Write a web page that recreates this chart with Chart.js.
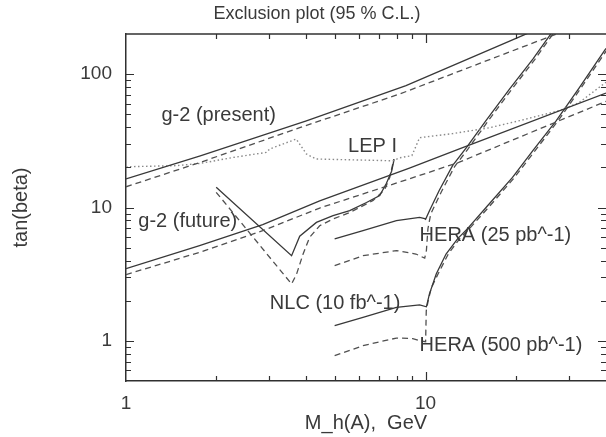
<!DOCTYPE html>
<html>
<head>
<meta charset="utf-8">
<script src="https://cdn.jsdelivr.net/npm/chart.js@4.4.1/dist/chart.umd.min.js"></script>
<style>
  html, body { margin: 0; padding: 0; background: #fff; overflow: hidden; }
  #wrap { width: 606px; height: 437px; position: relative; }
</style>
</head>
<body>
<div id="wrap"><canvas id="c" width="606" height="437"></canvas></div>
<script>
// Exclusion contours in the (M_h(A) [GeV], tan(beta)) plane, 95 % C.L.

// g-2 (present)
const g2PresentSolidM  = [1, 1.77, 4.0, 8.6, 20.3, 23];
const g2PresentSolidT  = [16.4, 24.4, 44.7, 82, 188, 212];
const g2PresentDashedM = [1, 1.77, 3.8, 8.2, 25.2, 30];
const g2PresentDashedT = [14.3, 21.8, 39.7, 71, 186.5, 216];

// g-2 (future)
const g2FutureSolidM  = [1, 1.76, 2.86, 4.43, 8.83, 12.9, 40];
const g2FutureSolidT  = [3.48, 5.17, 7.43, 11.2, 19.7, 27.4, 72];
const g2FutureDashedM = [1, 1.76, 2.86, 4.43, 8.83, 12.9, 40];
const g2FutureDashedT = [3.14, 4.61, 6.7, 9.91, 16.4, 21.8, 62.5];

// LEP I
const lepM = [1, 1.47, 1.77, 2.27, 2.94, 3.02, 3.70, 4.0, 4.31, 7.78, 8.2, 9.0, 9.55, 12.3, 16.3, 20.6, 27.9, 32.5, 40];
const lepT = [20.2, 20.6, 21.4, 23.7, 25.9, 27.5, 32.6, 25.2, 23.1, 22.4, 23.6, 24.5, 33.4, 35.8, 39.6, 44.8, 53.2, 61.1, 87];

// NLC (10 fb^-1)
const nlcSolidM  = [2.0, 3.57, 3.8, 4.32, 4.91, 5.58, 6.35, 7.03, 7.4, 7.7, 7.85];
const nlcSolidT  = [14.2, 4.35, 6.1, 7.73, 8.68, 9.47, 10.9, 12.3, 15.2, 18.7, 23];
const nlcDashedM = [2.0, 3.57, 3.71, 3.9, 4.1, 4.43, 4.91, 5.6, 6.68, 7.3, 7.59, 7.77, 7.83];
const nlcDashedT = [13.0, 2.67, 3.17, 4.48, 5.97, 7.3, 8.2, 9.2, 11.3, 13.6, 16.8, 21.2, 23.1];

// HERA (25 pb^-1)
const hera25SolidM  = [4.97, 6.18, 7.99, 9.55, 9.93, 10.0, 10.3, 11.1, 12.3, 13.7, 15.9, 19.05, 22.8, 25.9, 27];
const hera25SolidT  = [5.81, 6.70, 7.96, 8.43, 8.25, 8.15, 9.47, 13.4, 20.6, 28.2, 44.8, 77.3, 129.7, 194, 220];
const hera25DashedM = [4.97, 6.18, 7.99, 9.28, 9.93, 10.06, 10.18, 10.4, 11.3, 12.5, 13.9, 16.1, 19.3, 23.1, 26.3, 27.4];
const hera25DashedT = [3.66, 4.35, 4.75, 4.48, 4.17, 4.75, 6.93, 8.94, 13.2, 20.3, 27.8, 44, 76, 128, 193, 215];

// HERA (500 pb^-1)
const hera500SolidM  = [4.97, 6.18, 7.99, 9.55, 10.06, 10.3, 10.85, 11.7, 12.8, 13.8, 16.1, 19.5, 22.8, 27.3, 32.6, 40];
const hera500SolidT  = [1.30, 1.50, 1.78, 1.86, 1.80, 2.25, 3.17, 4.48, 5.84, 6.94, 10.3, 16.8, 26.7, 44.8, 79.4, 156];
const hera500DashedM = [4.97, 6.18, 7.99, 9.06, 9.7, 10.0, 10.05, 10.2, 10.45, 11.0, 11.9, 13.0, 14.0, 16.4, 19.8, 23.2, 27.7, 33.1, 40.6];
const hera500DashedT = [0.774, 0.92, 1.05, 1.04, 0.995, 0.986, 1.68, 2.0, 2.5, 3.17, 4.48, 5.84, 6.94, 10.3, 16.8, 26.7, 44.8, 79.4, 156];

// Axis ranges and labelled ticks
const xRange = [1, 40];
const yRange = [0.5, 200];
const xTickLabels = [1, 10];
const yTickLabels = [1, 10, 100];

// Curve labels: text, M_h(A) and tan(beta) of the label's left baseline
const curveLabels = [
  { text: 'g-2 (present)',     m: 1.313, t: 44.4 },
  { text: 'g-2 (future)',      m: 1.099, t: 7.12 },
  { text: 'LEP I',             m: 5.51,  t: 26.0 },
  { text: 'NLC (10 fb^-1)',    m: 3.02,  t: 1.735 },
  { text: 'HERA (25 pb^-1)',   m: 9.55,  t: 5.64 },
  { text: 'HERA (500 pb^-1)',  m: 9.55,  t: 0.844 }
];

const FONT = '"Liberation Sans", Arial, Helvetica, sans-serif';
const INK = '#3a3a3a';

const pts = (ms, ts) => ms.map((m, i) => ({ x: m, y: ts[i] }));

const solid  = { borderColor: '#383838', borderWidth: 1.3, borderDash: [] };
const dashed = { borderColor: '#505050', borderWidth: 1.3, borderDash: [6, 4] };
const dotted = { borderColor: '#8a8a8a', borderWidth: 1.4, borderDash: [1.5, 2.5] };

const datasets = [
  { label: 'g-2 present', data: pts(g2PresentSolidM, g2PresentSolidT), ...solid },
  { label: 'g-2 present (dashed)', data: pts(g2PresentDashedM, g2PresentDashedT), ...dashed },
  { label: 'g-2 future', data: pts(g2FutureSolidM, g2FutureSolidT), ...solid },
  { label: 'g-2 future (dashed)', data: pts(g2FutureDashedM, g2FutureDashedT), ...dashed },
  { label: 'LEP I', data: pts(lepM, lepT), ...dotted },
  { label: 'NLC', data: pts(nlcSolidM, nlcSolidT), ...solid },
  { label: 'NLC (dashed)', data: pts(nlcDashedM, nlcDashedT), ...dashed },
  { label: 'HERA 25', data: pts(hera25SolidM, hera25SolidT), ...solid },
  { label: 'HERA 25 (dashed)', data: pts(hera25DashedM, hera25DashedT), ...dashed },
  { label: 'HERA 500', data: pts(hera500SolidM, hera500SolidT), ...solid },
  { label: 'HERA 500 (dashed)', data: pts(hera500DashedM, hera500DashedT), ...dashed }
].map(d => Object.assign({ pointRadius: 0, tension: 0, fill: false }, d));

const isDecade = v => Math.abs(Math.log10(v) - Math.round(Math.log10(v))) < 1e-6;

// Minor/major tick values for a log axis between lo and hi (exclusive)
function logTickValues(lo, hi) {
  const out = [];
  for (let e = Math.floor(Math.log10(lo)); e <= Math.ceil(Math.log10(hi)); e++) {
    for (let k = 1; k < 10; k++) {
      const v = k * Math.pow(10, e);
      if (v > lo * 1.0001 && v < hi * 0.9999) out.push({ v, major: k === 1 });
    }
  }
  return out;
}

// Inward ticks on all four sides, plus the top frame line
const framePlugin = {
  id: 'frame',
  afterDraw(chart) {
    const { ctx, chartArea: a, scales: { x, y } } = chart;
    ctx.save();
    ctx.strokeStyle = '#303030';
    ctx.lineWidth = 1.5;
    ctx.beginPath();
    ctx.moveTo(a.left, a.top);
    ctx.lineTo(a.right, a.top);
    ctx.stroke();
    ctx.lineWidth = 1.2;
    ctx.beginPath();
    for (const t of logTickValues(xRange[0], xRange[1])) {
      const px = Math.round(x.getPixelForValue(t.v)) + 0.5;
      const len = t.major ? 9 : 5;
      ctx.moveTo(px, a.bottom); ctx.lineTo(px, a.bottom - len);
      ctx.moveTo(px, a.top); ctx.lineTo(px, a.top + len);
    }
    for (const t of logTickValues(yRange[0], yRange[1])) {
      const py = Math.round(y.getPixelForValue(t.v)) + 0.5;
      const len = t.major ? 8 : 5;
      ctx.moveTo(a.left, py); ctx.lineTo(a.left + len, py);
      ctx.moveTo(a.right, py); ctx.lineTo(a.right - len, py);
    }
    ctx.stroke();
    // Title
    ctx.fillStyle = INK;
    ctx.font = '18px ' + FONT;
    ctx.textAlign = 'center';
    ctx.textBaseline = 'middle';
    ctx.fillText('Exclusion plot (95 % C.L.)', 317, 14);
    ctx.restore();
  }
};

// Curve names placed at data coordinates
const labelPlugin = {
  id: 'curveLabels',
  afterDatasetsDraw(chart) {
    const { ctx, scales: { x, y } } = chart;
    ctx.save();
    ctx.fillStyle = INK;
    ctx.font = '20px ' + FONT;
    ctx.textAlign = 'left';
    ctx.textBaseline = 'alphabetic';
    for (const l of curveLabels) {
      ctx.fillText(l.text, x.getPixelForValue(l.m), y.getPixelForValue(l.t));
    }
    ctx.restore();
  }
};

new Chart(document.getElementById('c'), {
  type: 'line',
  data: { datasets },
  options: {
    responsive: false,
    animation: false,
    devicePixelRatio: 1,
    layout: { padding: { top: 34, right: 0, bottom: 0, left: 0 } },
    plugins: { legend: { display: false }, tooltip: { enabled: false }, title: { display: false } },
    scales: {
      x: {
        type: 'logarithmic',
        min: xRange[0], max: xRange[1],
        grid: { display: false, drawTicks: false },
        border: { display: true, color: '#303030', width: 1.5 },
        afterFit: s => { s.height = 56; },
        afterBuildTicks: s => { s.ticks = xTickLabels.map(v => ({ value: v })); },
        ticks: {
          autoSkip: false, maxRotation: 0, padding: 11, color: INK,
          font: { family: FONT, size: 19 },
          callback: v => (isDecade(v) ? String(v) : '')
        },
        title: {
          display: true, text: 'M_h(A),  GeV', color: INK,
          font: { family: FONT, size: 20 }, padding: { top: 0, bottom: 2 }
        }
      },
      y: {
        type: 'logarithmic',
        min: yRange[0], max: yRange[1],
        grid: { display: false, drawTicks: false },
        border: { display: true, color: '#303030', width: 1.5 },
        afterFit: s => { s.width = 126; },
        afterBuildTicks: s => { s.ticks = yTickLabels.map(v => ({ value: v })); },
        ticks: {
          autoSkip: false, padding: 14, color: INK,
          font: { family: FONT, size: 19 },
          callback: v => (isDecade(v) ? String(v) : '')
        },
        title: {
          display: true, text: 'tan(beta)', color: INK,
          font: { family: FONT, size: 20 }, padding: { top: 9, bottom: 0 }
        }
      }
    }
  },
  plugins: [framePlugin, labelPlugin]
});
</script>
</body>
</html>
